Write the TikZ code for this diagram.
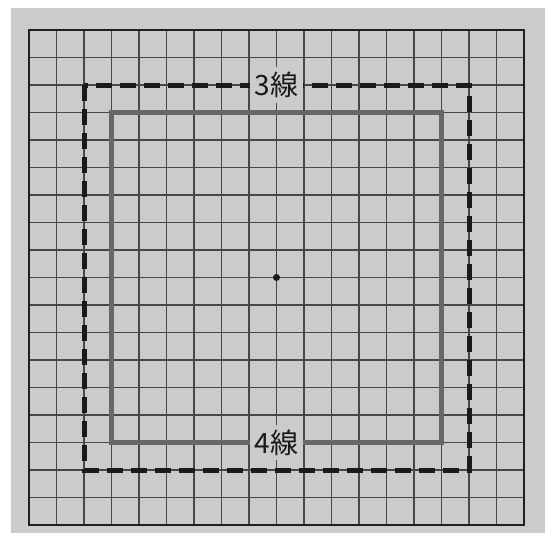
\documentclass[tikz,border=0pt]{standalone}
\usepackage{fontspec}
\newfontfamily\jpfont{Noto Sans CJK JP}
\usetikzlibrary{calc}
\definecolor{Board}{HTML}{CBCBCB}
\definecolor{GridLine}{HTML}{474747}
\definecolor{Edge}{HTML}{1F1F1F}
\definecolor{Ink}{HTML}{1A1A1A}
\definecolor{Frame}{HTML}{676767}

\begin{document}
\begin{tikzpicture}[
  x=1pt,y=-1pt,
  every node/.style={font=\jpfont\fontsize{28}{28}\selectfont,text=Ink},
  gridline/.style={GridLine,line width=1.1pt},
  edgeline/.style={Edge,line width=1.9pt},
  thirdline/.style={Ink,line width=5pt,dash pattern=on 16pt off 8pt},
  fourthline/.style={Frame,line width=4.3pt},
  tag/.style={fill=Board,inner xsep=5pt,inner ysep=5pt}
]
  \useasboundingbox (0,0) rectangle (545,533);
  \fill[white] (0,0) rectangle (545,533);
  \fill[Board] (11,8) rectangle (545,533);
  \foreach \i in {0,...,18} {
    \draw[gridline] (29+\i*27.5,30) -- (29+\i*27.5,525);
    \draw[gridline] (29,30+\i*27.5) -- (524,30+\i*27.5);
  }
  \draw[edgeline] (29,30) rectangle (524,525);
  \coordinate (tl3) at (84,85);
  \coordinate (br3) at (469,470);
  \coordinate (tl4) at (111.5,112.5);
  \coordinate (br4) at (441.5,442.5);
  \coordinate (tengen) at (276.5,277.5);
  \draw[fourthline] (tl4) rectangle (br4);
  \draw[thirdline] (tl3) rectangle (br3);
  \node[tag] (third) at ($(tl3)!.5!(br3 |- tl3)$) {3線};
  \node[tag] (fourth) at ($(br4)!.5!(tl4 |- br4)$) {4線};
  \fill[Ink] (tengen) circle (3.5);
\end{tikzpicture}
\end{document}
